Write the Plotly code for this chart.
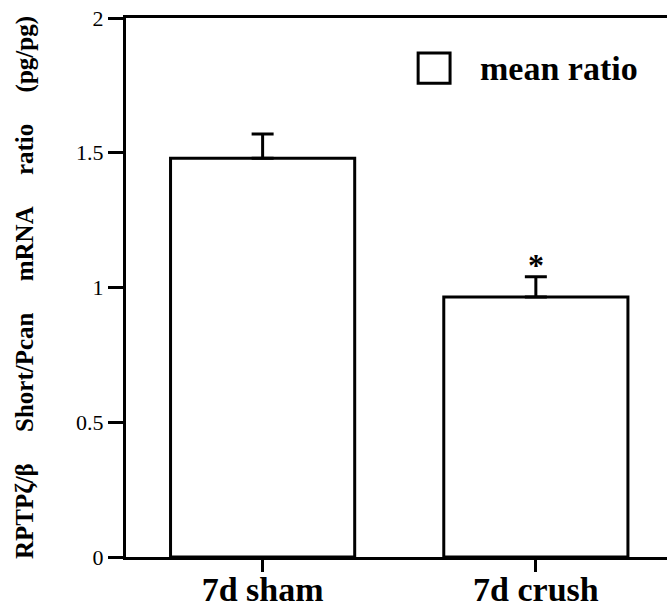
import plotly.graph_objects as go

categories = ["7d sham", "7d crush"]
mean_ratio = [1.48, 0.965]
sem_up = [0.09, 0.075]
sig_marks = ["", "*"]
y_ticks = [0, 0.5, 1, 1.5, 2]
y_tick_text = ["0", "0.5", "1", "1.5", "2"]
legend_label = "mean ratio"

SERIF = "Liberation Serif, Times New Roman, serif"
NB = "\u00a0" * 5
y_title = NB.join(["RPTP\u03b6/\u03b2", "Short/Pcan", "mRNA", "ratio", "(pg/pg)"])

fig = go.Figure()
fig.add_trace(go.Bar(
    x=categories, y=mean_ratio, name=legend_label, showlegend=False,
    width=0.674,
    marker=dict(color="white", line=dict(color="black", width=3)),
    error_y=dict(type="data", symmetric=False, array=sem_up,
                 arrayminus=[0] * len(sem_up), color="black", thickness=3, width=11),
))

for c, m, e, s in zip(categories, mean_ratio, sem_up, sig_marks):
    if s:
        fig.add_annotation(x=c, y=m + e + 0.045, text="<b>" + s + "</b>", showarrow=False,
                           font=dict(family=SERIF, size=32, color="black"),
                           xanchor="center", yanchor="middle")

# legend key (drawn box + label)
fig.add_shape(type="rect", xref="paper", yref="paper",
              x0=0.540, x1=0.599, y0=0.879, y1=0.935,
              line=dict(color="black", width=3), fillcolor="white")
fig.add_annotation(xref="paper", yref="paper", x=0.650, y=0.907,
                   text="<b>" + legend_label + "</b>", showarrow=False,
                   xanchor="left", yanchor="middle",
                   font=dict(family=SERIF, size=34, color="black"))

fig.update_layout(
    width=667, height=611,
    margin=dict(l=126, r=0, t=18, b=54, autoexpand=False),
    plot_bgcolor="white", paper_bgcolor="white",
    font=dict(family=SERIF, color="black"),
    showlegend=False,
    xaxis=dict(
        range=[-0.5, 1.48], showgrid=False, zeroline=False,
        showline=True, linecolor="black", linewidth=3, mirror=True,
        ticks="outside", ticklen=12, tickwidth=3, tickcolor="black",
        ticklabelstandoff=-12,
        tickfont=dict(family=SERIF, size=34, color="black"),
        ticktext=["<b>" + c + "</b>" for c in categories], tickvals=categories,
    ),
    yaxis=dict(
        range=[0, 2], showgrid=False, zeroline=False,
        showline=True, linecolor="black", linewidth=3,
        ticks="outside", ticklen=15, tickwidth=3, tickcolor="black",
        tickvals=y_ticks, ticktext=y_tick_text,
        tickfont=dict(family=SERIF, size=22, color="black"),
        title=dict(text="<b>" + y_title + "</b>", standoff=36,
                   font=dict(family=SERIF, size=25, color="black")),
    ),
)

fig.write_html("out.html")
